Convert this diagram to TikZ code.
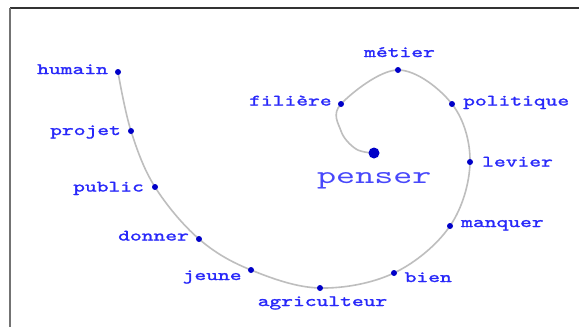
\documentclass[tikz,border=0pt]{standalone}
\usepackage{fontspec}
\newfontfamily\lblface[FakeStretch=1.42,FakeBold=1.6]{lmmono10-regular.otf}
\newfontfamily\bigface[FakeStretch=1.45]{lmmono10-regular.otf}
\definecolor{lblblue}{RGB}{40,40,250}
\definecolor{dotblue}{RGB}{0,0,200}
\definecolor{spiral}{RGB}{190,190,190}
\begin{document}
\begin{tikzpicture}[x=1pt,y=-1pt,
  dot/.style={circle,fill=dotblue,inner sep=0pt,minimum size=6pt},
  bigdot/.style={circle,fill=dotblue,inner sep=0pt,minimum size=11pt},
  word/.style={anchor=base west,inner sep=0pt,text=lblblue,font=\lblface\fontsize{15.8}{17}\selectfont},
  bigword/.style={anchor=base west,inner sep=0pt,text=lblblue!85!white,font=\bigface\fontsize{25}{28}\selectfont}]
\useasboundingbox (0,0) rectangle (579,327);
\fill[white] (0,0) rectangle (579,327);
% frame
\draw[line width=1.5pt,black!80] (10,8) -- (579,8);
\draw[line width=1.8pt,black!55] (10,8) -- (10,327);
% points
\coordinate (cP) at (374,153);
\coordinate (cA) at (356,149);
\coordinate (cB) at (341,131);
\coordinate (cFil) at (341,104);
\coordinate (cMet) at (398,70);
\coordinate (cPol) at (452,104);
\coordinate (cLev) at (470,162);
\coordinate (cMan) at (450,226);
\coordinate (cBie) at (394,273);
\coordinate (cAgr) at (320,288);
\coordinate (cJeu) at (251,270);
\coordinate (cDon) at (199,239);
\coordinate (cPub) at (155,187);
\coordinate (cPro) at (131,131);
\coordinate (cHum) at (118,72);
% spiral
\draw[spiral,line width=1.6pt] plot[smooth,tension=0.6] coordinates {(cP) (cA) (cB) (cFil) (cMet) (cPol) (cLev) (cMan) (cBie) (cAgr) (cJeu) (cDon) (cPub) (cPro) (cHum)};
% dots
\node[bigdot] (penser) at (cP) {};
\node[dot] (filiere) at (cFil) {};
\node[dot] (metier) at (cMet) {};
\node[dot] (politique) at (cPol) {};
\node[dot] (levier) at (cLev) {};
\node[dot] (manquer) at (cMan) {};
\node[dot] (bien) at (cBie) {};
\node[dot] (agriculteur) at (cAgr) {};
\node[dot] (jeune) at (cJeu) {};
\node[dot] (donner) at (cDon) {};
\node[dot] (public) at (cPub) {};
\node[dot] (projet) at (cPro) {};
\node[dot] (humain) at (cHum) {};
% labels
\node[bigword] (tpenser) at (317,183) {penser};
\node[word] (tfiliere) at (249,105.5) {filière};
\node[word] (tmetier) at (364,57) {métier};
\node[word] (tpolitique) at (463,105.5) {politique};
\node[word] (tlevier) at (482,166.5) {levier};
\node[word] (tmanquer) at (461,227) {manquer};
\node[word] (tbien) at (404.5,282) {bien};
\node[word] (tagriculteur) at (257.5,306) {agriculteur};
\node[word] (tjeune) at (182.5,280) {jeune};
\node[word] (tdonner) at (118,240.5) {donner};
\node[word] (tpublic) at (73,191.5) {public};
\node[word] (tprojet) at (50,135) {projet};
\node[word] (thumain) at (37,74) {humain};
\end{tikzpicture}
\end{document}
